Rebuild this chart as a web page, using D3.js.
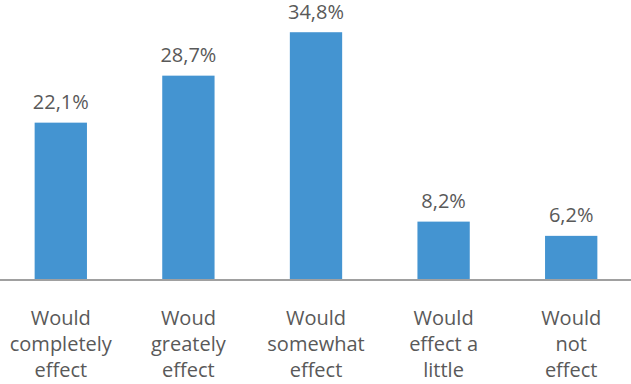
<!DOCTYPE html>
<meta charset="utf-8">
<head>
	<title>Effect chart</title>
	<script type="text/javascript" src="https://cdn.jsdelivr.net/npm/d3@7/dist/d3.min.js"></script>
	<style>
		body { margin: 0; background: #fff; }
		.label { font-family: "Open Sans", sans-serif; font-size: 20px; fill: #595959; }
	</style>
</head>
<body>
	<div id="chart"></div>
	<script>
		// data
		var categories = ["c1", "c2", "c3", "c4", "c5"];
		var catLabels = [
			["Would", "completely", "effect"],
			["Woud", "greately", "effect"],
			["Would", "somewhat", "effect"],
			["Would", "effect a", "little"],
			["Would", "not", "effect"]
		];
		var values = [22.1, 28.7, 34.8, 8.2, 6.2];
		var valueLabels = ["22,1%", "28,7%", "34,8%", "8,2%", "6,2%"];

		var width = 631, height = 384, baseline = 280;

		var svg = d3.select("#chart").append("svg")
			.attr("width", width)
			.attr("height", height);

		var x = d3.scaleBand()
			.domain(categories)
			.range([-3, 635])
			.paddingInner(0.59)
			.paddingOuter(0.295);

		var y = d3.scaleLinear()
			.domain([0, 35])
			.range([baseline, baseline - 7.12 * 35]);

		// bars
		svg.selectAll("rect.bar")
			.data(values)
			.enter().append("rect")
			.attr("class", "bar")
			.attr("x", function(d, i) { return x(categories[i]); })
			.attr("width", x.bandwidth())
			.attr("y", function(d) { return y(d); })
			.attr("height", function(d) { return y(0) - y(d); })
			.attr("fill", "#4494d1");

		// baseline
		svg.append("line")
			.attr("x1", 0).attr("x2", width)
			.attr("y1", baseline).attr("y2", baseline)
			.attr("stroke", "#a0a0a0")
			.attr("stroke-width", 2);

		// value labels
		svg.selectAll("text.val")
			.data(values)
			.enter().append("text")
			.attr("class", "label val")
			.attr("text-anchor", "middle")
			.attr("x", function(d, i) { return x(categories[i]) + x.bandwidth() / 2; })
			.attr("y", function(d) { return y(d) - 13.5; })
			.text(function(d, i) { return valueLabels[i]; });

		// category labels
		var cat = svg.selectAll("text.cat")
			.data(catLabels)
			.enter().append("text")
			.attr("class", "label cat")
			.attr("text-anchor", "middle")
			.attr("x", function(d, i) { return x(categories[i]) + x.bandwidth() / 2; })
			.attr("y", 325);

		cat.selectAll("tspan")
			.data(function(d) { return d; })
			.enter().append("tspan")
			.attr("x", function() { return d3.select(this.parentNode).attr("x"); })
			.attr("dy", function(d, j) { return j === 0 ? 0 : 26; })
			.text(function(d) { return d; });
	</script>
</body>
